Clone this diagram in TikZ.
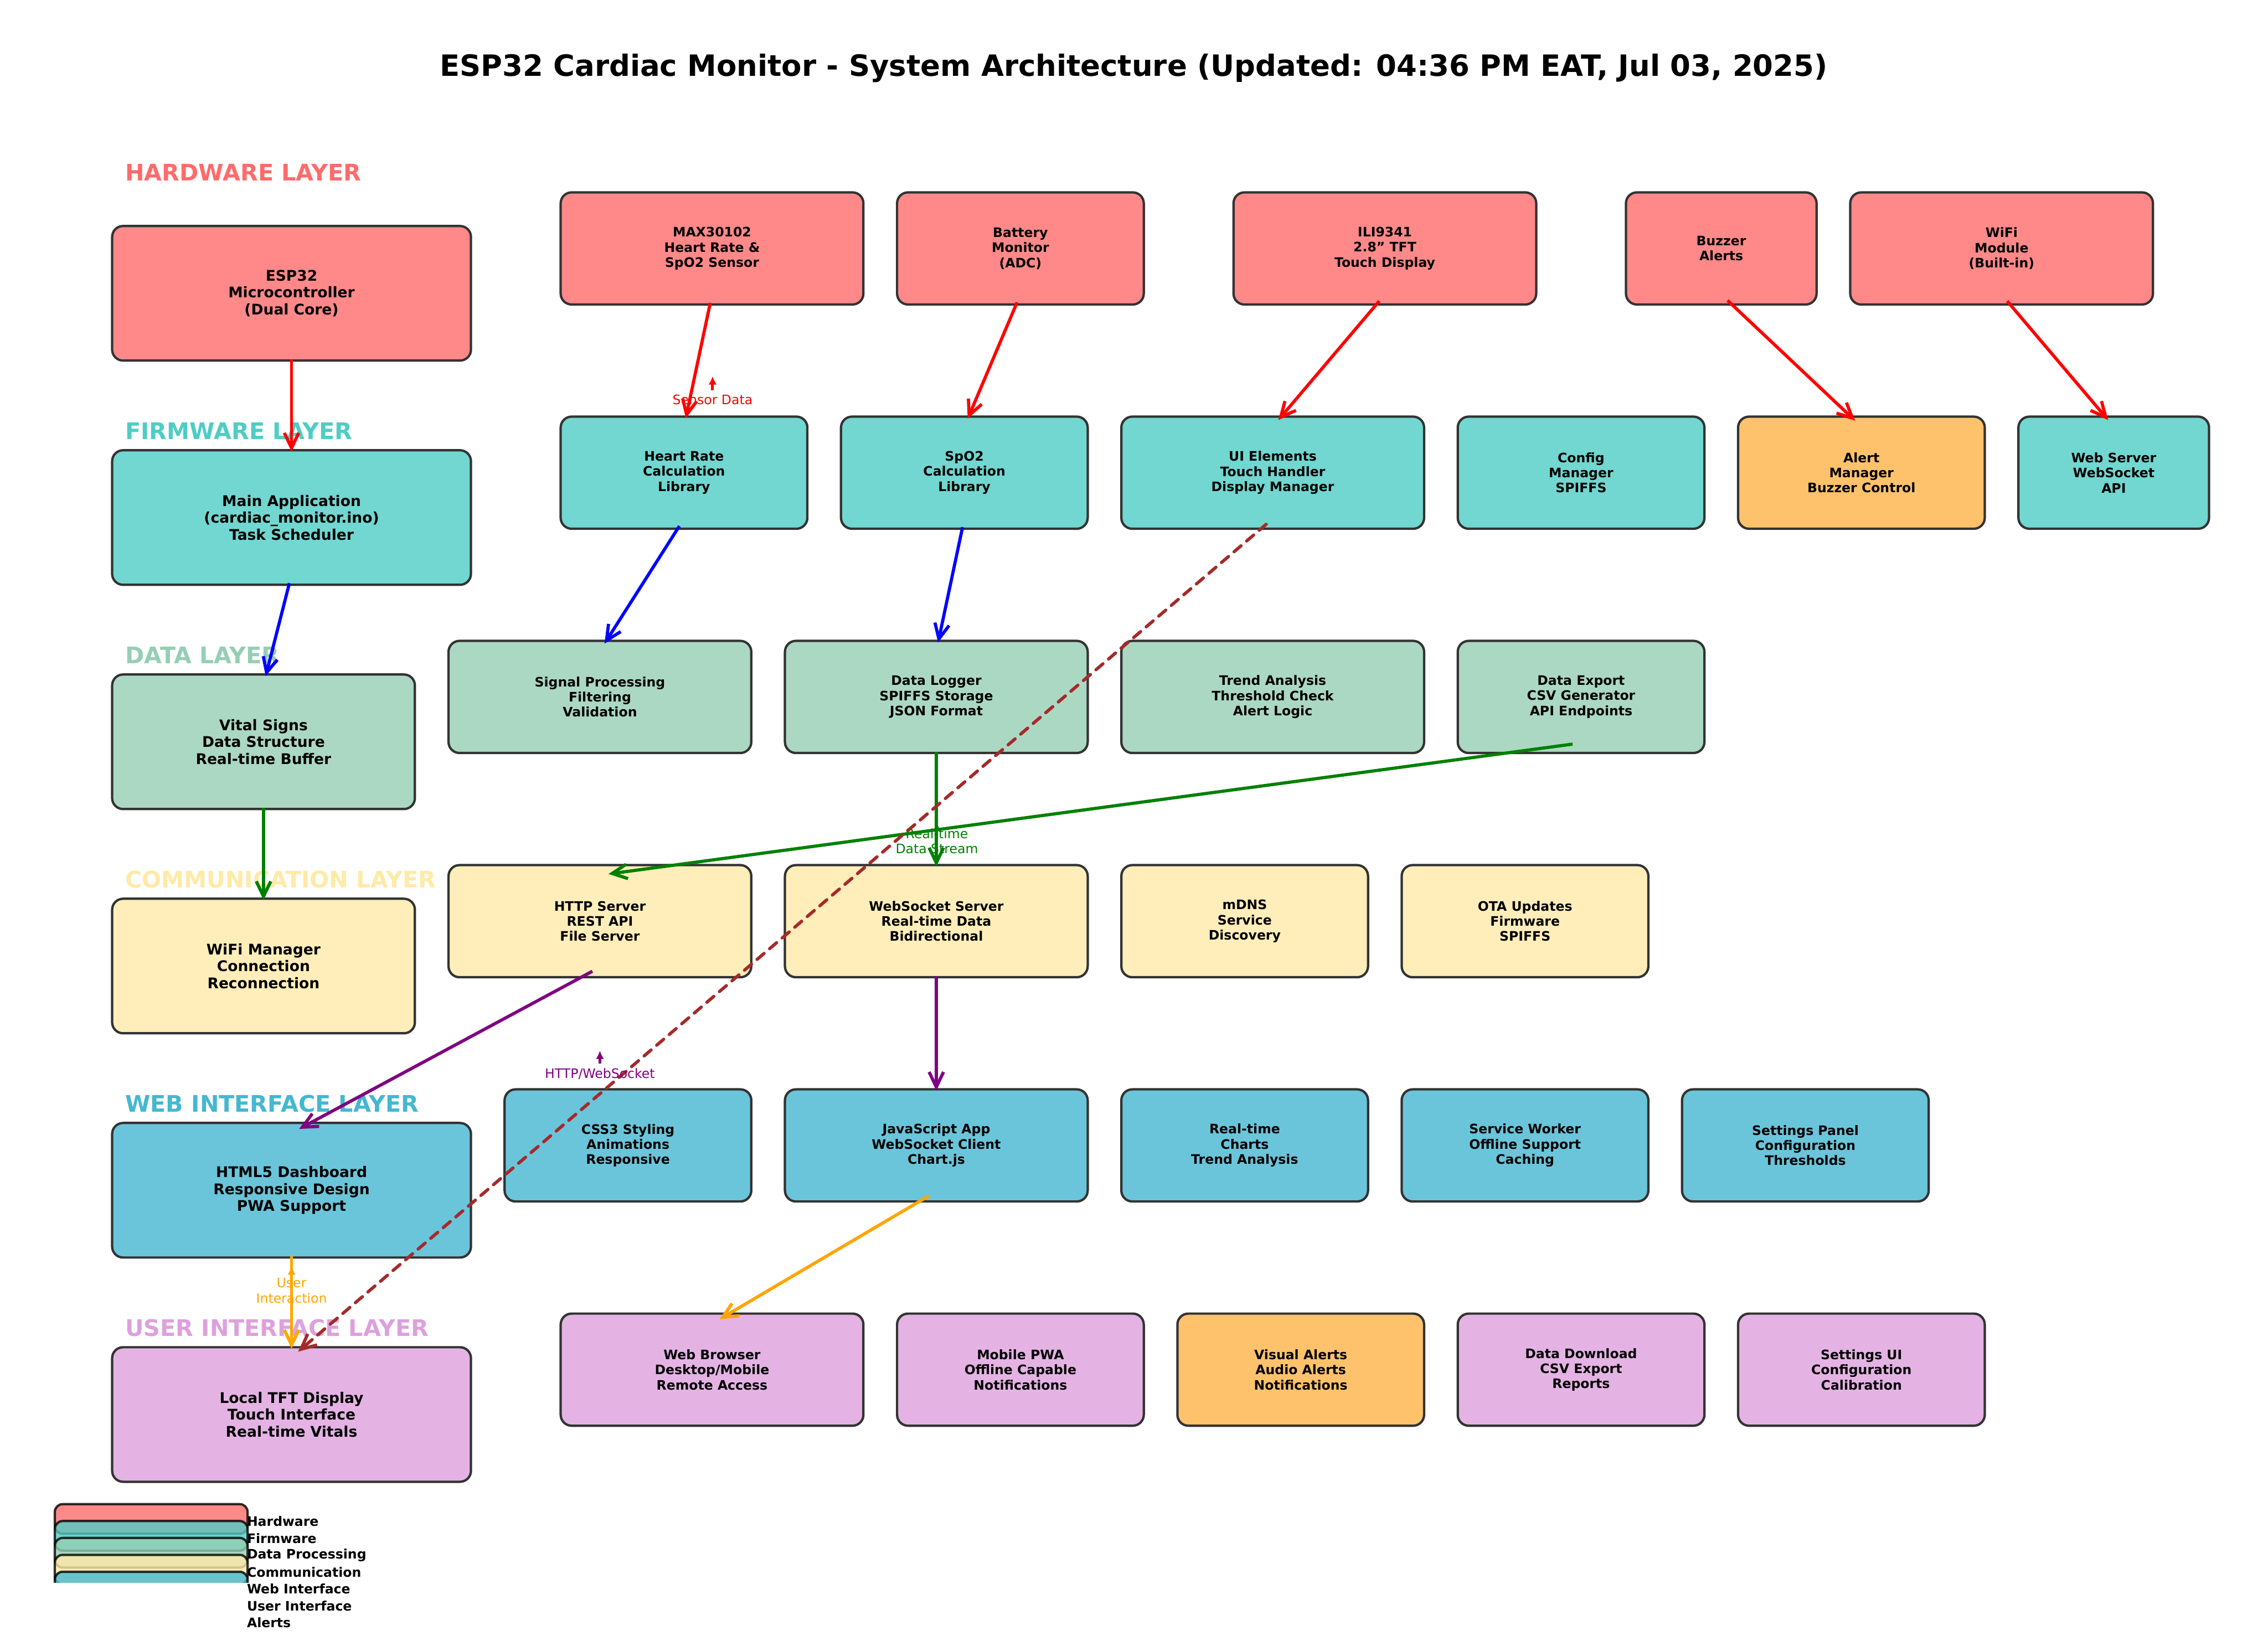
\documentclass[tikz,border=0pt]{standalone}
\usepackage{fontspec}
\setmainfont{DejaVu Sans}
\usetikzlibrary{arrows.meta}
\definecolor{Hw}{HTML}{FF6B6B}
\definecolor{Fw}{HTML}{4ECDC4}
\definecolor{Dt}{HTML}{96CEB4}
\definecolor{Cm}{HTML}{FFEAA7}
\definecolor{Wb}{HTML}{45B7D1}
\definecolor{Ui}{HTML}{DDA0DD}
\definecolor{Al}{HTML}{FFB347}
\definecolor{Edge}{HTML}{333333}
\definecolor{Brown}{HTML}{A52A2A}
\definecolor{Orange}{HTML}{FFA500}
\definecolor{Purple}{HTML}{800080}
\definecolor{Green}{HTML}{008000}

\begin{document}
\begin{tikzpicture}[x=2.864cm,y=2.864cm,
      box/.style={draw=Edge,line width=1.7pt,rounded corners=0.28cm,inner sep=0pt,
        align=center,font=\fontsize{9.48}{11}\selectfont\bfseries},
      mainbox/.style={box,font=\fontsize{10.67}{12.3}\selectfont\bfseries},
      sz/.style 2 args={minimum width=#1*2.864cm,minimum height=#2*2.864cm},
      layer/.style={anchor=west,inner sep=0pt,font=\fontsize{16.6}{20}\selectfont\bfseries},
      note/.style={inner sep=0pt,align=center,font=\fontsize{9.48}{11}\selectfont},
      legend/.style={anchor=west,inner sep=0pt,font=\fontsize{9.48}{11}\selectfont\bfseries},
      link/.style={line width=2.3pt,shorten <=2.2mm,shorten >=2.2mm,
        -{Straight Barb[length=11pt,width=10.5pt]}},
      tag/.style={line width=2pt,-{Latex[length=6pt,width=6pt]}}
    ]
      \useasboundingbox (0,-0.416) rectangle (20.226,14.216);

      \node[inner sep=0pt,font=\fontsize{21.3}{25}\selectfont\bfseries] (title) at (10.11,13.61)
        {ESP32 Cardiac Monitor - System Architecture (Updated: 04:36 PM EAT, Jul 03, 2025)};

      % layer headings
      \node[layer,text=Hw] (lhw) at (1.115,12.68) {HARDWARE LAYER};
      \node[layer,text=Fw] (lfw) at (1.115,10.37) {FIRMWARE LAYER};
      \node[layer,text=Dt] (ldt) at (1.115,8.37) {DATA LAYER};
      \node[layer,text=Cm] (lcm) at (1.115,6.37) {COMMUNICATION LAYER};
      \node[layer,text=Wb] (lwb) at (1.115,4.37) {WEB INTERFACE LAYER};
      \node[layer,text=Ui] (lui) at (1.115,2.37) {USER INTERFACE LAYER};

      % hardware
      \node[mainbox,sz={3.2}{1.2},fill=Hw!80] (esp) at (2.6,11.6) {ESP32\\Microcontroller\\(Dual Core)};
      \node[box,sz={2.7}{1},fill=Hw!80] (maxs) at (6.35,12) {MAX30102\\Heart Rate \&\\SpO2 Sensor};
      \node[box,sz={2.2}{1},fill=Hw!80] (batt) at (9.1,12) {Battery\\Monitor\\(ADC)};
      \node[box,sz={2.7}{1},fill=Hw!80] (tft) at (12.35,12) {ILI9341\\2.8" TFT\\Touch Display};
      \node[box,sz={1.7}{1},fill=Hw!80] (buzz) at (15.35,12) {Buzzer\\Alerts};
      \node[box,sz={2.7}{1},fill=Hw!80] (wifi) at (17.85,12) {WiFi\\Module\\(Built-in)};

      % firmware
      \node[mainbox,sz={3.2}{1.2},fill=Fw!80] (mainapp) at (2.6,9.6) {Main Application\\(cardiac\_monitor.ino)\\Task Scheduler};
      \node[box,sz={2.2}{1},fill=Fw!80] (hrlib) at (6.1,10) {Heart Rate\\Calculation\\Library};
      \node[box,sz={2.2}{1},fill=Fw!80] (spolib) at (8.6,10) {SpO2\\Calculation\\Library};
      \node[box,sz={2.7}{1},fill=Fw!80] (uielem) at (11.35,10) {UI Elements\\Touch Handler\\Display Manager};
      \node[box,sz={2.2}{1},fill=Fw!80] (config) at (14.1,10) {Config\\Manager\\SPIFFS};
      \node[box,sz={2.2}{1},fill=Al!80] (alertmgr) at (16.6,10) {Alert\\Manager\\Buzzer Control};
      \node[box,sz={1.7}{1},fill=Fw!80] (websrv) at (18.85,10) {Web Server\\WebSocket\\API};

      % data
      \node[mainbox,sz={2.7}{1.2},fill=Dt!80] (vitals) at (2.35,7.6) {Vital Signs\\Data Structure\\Real-time Buffer};
      \node[box,sz={2.7}{1},fill=Dt!80] (sigproc) at (5.35,8) {Signal Processing\\Filtering\\Validation};
      \node[box,sz={2.7}{1},fill=Dt!80] (logger) at (8.35,8) {Data Logger\\SPIFFS Storage\\JSON Format};
      \node[box,sz={2.7}{1},fill=Dt!80] (trend) at (11.35,8) {Trend Analysis\\Threshold Check\\Alert Logic};
      \node[box,sz={2.2}{1},fill=Dt!80] (export) at (14.1,8) {Data Export\\CSV Generator\\API Endpoints};

      % communication
      \node[mainbox,sz={2.7}{1.2},fill=Cm!80] (wifimgr) at (2.35,5.6) {WiFi Manager\\Connection\\Reconnection};
      \node[box,sz={2.7}{1},fill=Cm!80] (http) at (5.35,6) {HTTP Server\\REST API\\File Server};
      \node[box,sz={2.7}{1},fill=Cm!80] (wss) at (8.35,6) {WebSocket Server\\Real-time Data\\Bidirectional};
      \node[box,sz={2.2}{1},fill=Cm!80] (mdns) at (11.1,6) {mDNS\\Service\\Discovery};
      \node[box,sz={2.2}{1},fill=Cm!80] (ota) at (13.6,6) {OTA Updates\\Firmware\\SPIFFS};

      % web interface
      \node[mainbox,sz={3.2}{1.2},fill=Wb!80] (dash) at (2.6,3.6) {HTML5 Dashboard\\Responsive Design\\PWA Support};
      \node[box,sz={2.2}{1},fill=Wb!80] (css) at (5.6,4) {CSS3 Styling\\Animations\\Responsive};
      \node[box,sz={2.7}{1},fill=Wb!80] (jsapp) at (8.35,4) {JavaScript App\\WebSocket Client\\Chart.js};
      \node[box,sz={2.2}{1},fill=Wb!80] (charts) at (11.1,4) {Real-time\\Charts\\Trend Analysis};
      \node[box,sz={2.2}{1},fill=Wb!80] (sworker) at (13.6,4) {Service Worker\\Offline Support\\Caching};
      \node[box,sz={2.2}{1},fill=Wb!80] (settings) at (16.1,4) {Settings Panel\\Configuration\\Thresholds};

      % user interface
      \node[mainbox,sz={3.2}{1.2},fill=Ui!80] (localtft) at (2.6,1.6) {Local TFT Display\\Touch Interface\\Real-time Vitals};
      \node[box,sz={2.7}{1},fill=Ui!80] (browser) at (6.35,2) {Web Browser\\Desktop/Mobile\\Remote Access};
      \node[box,sz={2.2}{1},fill=Ui!80] (mobile) at (9.1,2) {Mobile PWA\\Offline Capable\\Notifications};
      \node[box,sz={2.2}{1},fill=Al!80] (visual) at (11.6,2) {Visual Alerts\\Audio Alerts\\Notifications};
      \node[box,sz={2.2}{1},fill=Ui!80] (download) at (14.1,2) {Data Download\\CSV Export\\Reports};
      \node[box,sz={2.2}{1},fill=Ui!80] (setui) at (16.6,2) {Settings UI\\Configuration\\Calibration};

      % connections
      \draw[link,red] ([yshift=2.86mm]esp.south)--([yshift=-2.86mm]mainapp.north);
      \draw[link,red] ([yshift=2.86mm]maxs.south)--([yshift=-2.86mm]hrlib.north);
      \draw[link,red] ([yshift=2.86mm]batt.south)--([yshift=-2.86mm]spolib.north);
      \draw[link,red] ([yshift=2.86mm]tft.south)--([yshift=-2.86mm]uielem.north);
      \draw[link,red] ([yshift=2.86mm]buzz.south)--([yshift=-2.86mm]alertmgr.north);
      \draw[link,red] ([yshift=2.86mm]wifi.south)--([yshift=-2.86mm]websrv.north);
      \draw[link,blue] ([yshift=2.86mm]mainapp.south)--([yshift=-2.86mm]vitals.north);
      \draw[link,blue] ([yshift=2.86mm]hrlib.south)--([yshift=-2.86mm]sigproc.north);
      \draw[link,blue] ([yshift=2.86mm]spolib.south)--([yshift=-2.86mm]logger.north);
      \draw[link,Green] ([yshift=2.86mm]vitals.south)--([yshift=-2.86mm]wifimgr.north);
      \draw[link,Green] ([yshift=2.86mm]logger.south)--([yshift=-2.86mm]wss.north);
      \draw[link,Green] ([yshift=2.86mm]export.south)--([yshift=-2.86mm]http.north);
      \draw[link,Purple] ([yshift=2.86mm]http.south)--([yshift=-2.86mm]dash.north);
      \draw[link,Purple] ([yshift=2.86mm]wss.south)--([yshift=-2.86mm]jsapp.north);
      \draw[link,Orange] ([yshift=2.86mm]jsapp.south)--([yshift=-2.86mm]browser.north);
      \draw[link,Orange] ([yshift=2.86mm]dash.south)--([yshift=-2.86mm]localtft.north);
      \draw[link,Brown,dash pattern=on 6.7pt off 5.3pt,line cap=round]
        ([yshift=2.86mm]uielem.south)--([yshift=-2.86mm]localtft.north);

      % flow labels
      \node[note,text=red] (sensor) at (6.355,10.65) {Sensor Data};
      \coordinate (sensortip) at (6.355,10.86);
      \draw[tag,red,shorten <=3pt] (sensor.north)--(sensortip);
      \node[note,text=Green] (stream) at (8.355,6.713) {Real-time\\Data Stream};
      \coordinate (streamtip) at (8.355,6.88);
      \draw[tag,Green] (stream.north)--(streamtip);
      \node[note,text=Purple] (proto) at (5.35,4.64) {HTTP/WebSocket};
      \coordinate (prototip) at (5.35,4.845);
      \draw[tag,Purple,shorten <=3pt] (proto.north)--(prototip);
      \node[note,text=Orange] (touch) at (2.6,2.706) {User\\Interaction};
      \coordinate (touchtip) at (2.6,2.92);
      \draw[tag,Orange] (touch.north)--(touchtip);

      % legend
      \begin{scope}
        \clip (0,0.1) rectangle (3,1);
        \foreach \c [count=\i from 0] in {Hw,Fw,Dt,Cm,Wb,Ui,Al}
          \draw[black,draw opacity=0.8,line width=1.7pt,fill=\c,fill opacity=0.8,rounded corners=0.2cm]
            (0.489,0.8006-\i*0.1508) rectangle (2.208,0.5361-\i*0.1508);
      \end{scope}
      \foreach \t [count=\i from 0] in {Hardware,Firmware,Data Processing,Communication,Web Interface,User Interface,Alerts}
        \node[legend] (lg\i) at (2.2,0.648-\i*0.1508) {\t};
    \end{tikzpicture}
\end{document}
